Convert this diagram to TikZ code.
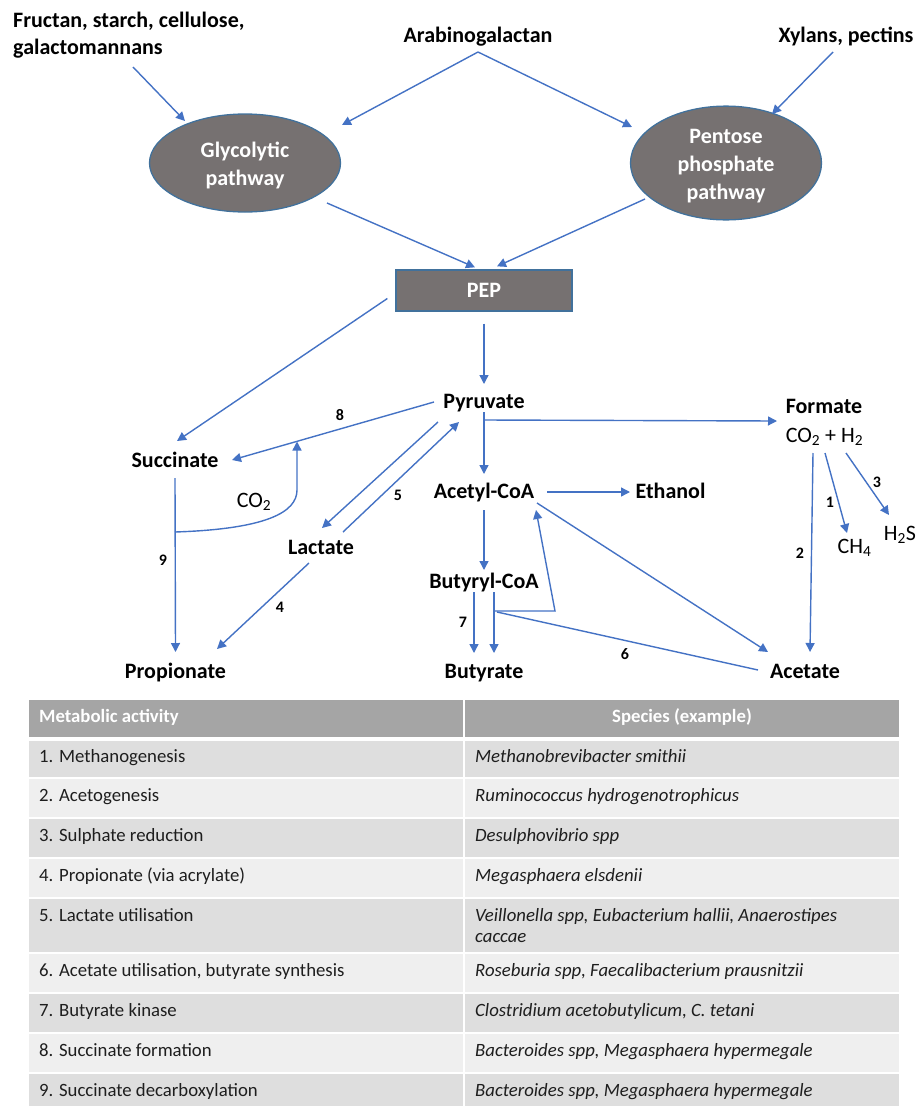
\documentclass[tikz,border=0pt]{standalone}
\usepackage{fontspec}
\setmainfont{Carlito}
\usetikzlibrary{arrows.meta,calc,shapes.geometric}
\definecolor{flow}{HTML}{4472C4}
\definecolor{pathfill}{HTML}{767171}
\definecolor{pathedge}{HTML}{41719C}
\definecolor{headgray}{HTML}{A5A5A5}
\definecolor{rowdark}{HTML}{DEDEDE}
\definecolor{rowlight}{HTML}{EFEFEF}
\definecolor{celltext}{HTML}{1E1E1E}

\begin{document}
\begin{tikzpicture}[x=1pt,y=-1pt,
  lab/.style={font=\fontsize{22}{27}\selectfont\bfseries, inner sep=0pt, anchor=base},
  chem/.style={font=\fontsize{22}{27}\selectfont, inner sep=0pt, anchor=base},
  num/.style={font=\fontsize{16}{18}\selectfont\bfseries, inner sep=0pt, anchor=base},
  pathway/.style={ellipse, draw=pathedge, line width=1.3pt, fill=pathfill, text=white,
    font=\fontsize{22}{28}\selectfont\bfseries, align=center, inner sep=0pt,
    minimum width=191pt, minimum height=98pt},
  hub/.style={rectangle, draw=pathedge, line width=1.3pt, fill=pathfill, text=white,
    font=\fontsize{22}{27}\selectfont\bfseries, minimum width=176pt, minimum height=41pt},
  flowarrow/.style={draw=flow, line width=1.4pt, -{Triangle[length=9pt,width=9pt]}},
  flowline/.style={draw=flow, line width=1.4pt},
  headcell/.style={fill=headgray},
  darkcell/.style={fill=rowdark},
  lightcell/.style={fill=rowlight},
  celltxt/.style={font=\fontsize{18.75}{20.5}\selectfont, inner sep=0pt, anchor=base west, text=celltext, align=left},
  spectxt/.style={celltxt, font=\fontsize{18.75}{20.5}\selectfont\itshape},
  headtxt/.style={font=\fontsize{18.75}{22}\selectfont\bfseries, inner sep=0pt, text=white},
]
\useasboundingbox (0,0) rectangle (919,1106);

% ---------- substrates ----------
\node[font=\fontsize{22}{27}\selectfont\bfseries, inner sep=0pt, align=left, anchor=north west]
  (fru) at (13,11.5) {Fructan, starch, cellulose,\\galactomannans};
\node[lab] (arab) at (478,42) {Arabinogalactan};
\node[lab] (xyl) at (846,42) {Xylans, pectins};

% ---------- pathways ----------
\node[pathway] (gly) at (245,163) {\rule{0pt}{21pt}Glycolytic\\pathway};
\node[pathway] (pen) at (726,163) {\rule{0pt}{21pt}Pentose\\phosphate\\pathway};
\node[hub] (pep) at (484,290.5) {PEP};

% ---------- metabolites ----------
\node[lab] (pyr) at (484,408) {Pyruvate};
\node[lab] (suc) at (175,467) {Succinate};
\node[chem] (co2) at (254,507) {CO\textsubscript{2}};
\node[lab] (lac) at (321,554) {Lactate};
\node[lab] (pro) at (175.5,678) {Propionate};
\node[lab] (acc) at (484,498) {Acetyl-CoA};
\node[lab] (eth) at (670.5,498) {Ethanol};
\node[lab] (buc) at (484,588) {Butyryl-CoA};
\node[lab] (but) at (484,678) {Butyrate};
\node[lab] (form) at (824,413) {Formate};
\node[chem] (gas) at (824.5,442) {CO\textsubscript{2} + H\textsubscript{2}};
\node[chem] (ch4) at (854.5,553) {CH\textsubscript{4}};
\node[chem] (h2s) at (900,540) {H\textsubscript{2}S};
\node[lab] (ace) at (805,678) {Acetate};

% ---------- step numbers ----------
\node[num] (n8) at (340,420) {8};
\node[num] (n5) at (398,500) {5};
\node[num] (n9) at (163,565) {9};
\node[num] (n4) at (280,612) {4};
\node[num] (n7) at (463,627) {7};
\node[num] (n6) at (625,659) {6};
\node[num] (n2) at (800,558) {2};
\node[num] (n1) at (830,507) {1};
\node[num] (n3) at (877,487) {3};

% ---------- connectors ----------
\draw[flowarrow] ($(fru.north west)+(120,55.5)$) -- ($(gly.center)+(-60,-42)$);
\draw[flowarrow] ($(arab.base)+(0,10)$) -- ($(gly.center)+(97,-38)$);
\draw[flowarrow] ($(arab.base)+(0,10)$) -- ($(pen.center)+(-94,-36)$);
\draw[flowarrow] ($(xyl.base)+(-13,10)$) -- ($(pen.center)+(46,-49)$);
\draw[flowarrow] ($(gly.center)+(82,40)$) -- ($(pep.north)+(-9,-2)$);
\draw[flowarrow] ($(pen.center)+(-81,36)$) -- ($(pep.north)+(13,-3)$);
\draw[flowarrow] ($(pep.west)+(-8,8)$) -- ($(suc.base)+(2,-26)$);
\draw[flowarrow] ($(pep.south)+(0,12)$) -- ($(pyr.base)+(0,-24)$);

% succinate branch
\draw[flowarrow] ($(pyr.base)+(-50,-6)$) -- ($(suc.base)+(57,-7)$);
\draw[flowarrow] ($(suc.base)+(0,65)$) .. controls +(92,-3) and +(0,22) .. ($(suc.base)+(122,23)$) -- ($(suc.base)+(122,-25.5)$);
\draw[flowarrow] ($(suc.base)+(0,11)$) -- ($(pro.base)+(0,-26)$);

% lactate
\draw[flowarrow] ($(pyr.base)+(-46,14)$) -- ($(lac.base)+(1,-26)$);
\draw[flowarrow] ($(lac.base)+(22,-22)$) -- ($(pyr.base)+(-25,14)$);
\draw[flowarrow] ($(lac.base)+(-12,9)$) -- ($(pro.base)+(41.5,-29)$);

% acetyl-CoA and butyrate
\draw[flowarrow] ($(pyr.base)+(0,4)$) -- ($(acc.base)+(0,-24)$);
\draw[flowarrow] ($(pyr.base)+(0,12)$) -- ($(form.base)+(-47,8)$);
\draw[flowarrow] ($(acc.base)+(0,12)$) -- ($(buc.base)+(0,-18)$);
\draw[flowarrow] ($(acc.base)+(63,-6)$) -- ($(eth.base)+(-40.5,-6)$);
\draw[flowarrow] ($(acc.base)+(53,5)$) -- ($(ace.base)+(-37,-26)$);
\draw[flowarrow] ($(buc.base)+(-10,4)$) -- ($(but.base)+(-10,-25)$);
\draw[flowarrow] ($(buc.base)+(10,4)$) -- ($(but.base)+(10,-25)$);
\draw[flowline] ($(ace.base)+(-47,-8)$) -- ($(buc.base)+(13,24)$);
\draw[flowarrow] ($(buc.base)+(10,23)$) -- ($(buc.base)+(71,23)$) -- ($(acc.base)+(52,12)$);

% hydrogen disposal
\draw[flowarrow] ($(gas.base)+(-11.5,11)$) -- ($(ace.base)+(5,-26)$);
\draw[flowarrow] ($(gas.base)+(0.5,11)$) -- ($(ch4.base)+(-7.5,-20)$);
\draw[flowarrow] ($(gas.base)+(21.5,11)$) -- ($(h2s.base)+(-11,-25)$);

% ---------- table ----------
\path[headcell] (29,700) rectangle (463,737);
\path[headcell] (465,700) rectangle (899,737);
\foreach \top/\bot/\sty in {741/777/darkcell, 779/817/lightcell, 819/857/darkcell,
    859/897/lightcell, 899/952/darkcell, 954/992/lightcell, 994/1032/darkcell,
    1034/1072/lightcell, 1074/1106/darkcell}{
  \path[\sty] (29,\top) rectangle (463,\bot);
  \path[\sty] (465,\top) rectangle (899,\bot);
}
\node[headtxt, anchor=base west] (h1) at (39,722) {Metabolic activity};
\node[headtxt, anchor=base] (h2) at (682,722) {Species (example)};

\node[celltxt] (t1) at (39,762) {1. Methanogenesis};
\node[spectxt] (s1) at (475,762) {Methanobrevibacter smithii};
\node[celltxt] (t2) at (39,801) {2. Acetogenesis};
\node[spectxt] (s2) at (475,801) {Ruminococcus hydrogenotrophicus};
\node[celltxt] (t3) at (39,841) {3. Sulphate reduction};
\node[spectxt] (s3) at (475,841) {Desulphovibrio spp};
\node[celltxt] (t4) at (39,881) {4. Propionate (via acrylate)};
\node[spectxt] (s4) at (475,881) {Megasphaera elsdenii};
\node[celltxt] (t5) at (39,921.5) {5. Lactate utilisation};
% two-line cell: the base anchor sits on the last line
\node[spectxt] (s5) at (475,942) {Veillonella spp, Eubacterium hallii, Anaerostipes\\caccae};
\node[celltxt] (t6) at (39,976) {6. Acetate utilisation, butyrate synthesis};
\node[spectxt] (s6) at (475,976) {Roseburia spp, Faecalibacterium prausnitzii};
\node[celltxt] (t7) at (39,1016) {7. Butyrate kinase};
\node[spectxt] (s7) at (475,1016) {Clostridium acetobutylicum, C. tetani};
\node[celltxt] (t8) at (39,1056) {8. Succinate formation};
\node[spectxt] (s8) at (475,1056) {Bacteroides spp, Megasphaera hypermegale};
\node[celltxt] (t9) at (39,1096) {9. Succinate decarboxylation};
\node[spectxt] (s9) at (475,1096) {Bacteroides spp, Megasphaera hypermegale};
\end{tikzpicture}
\end{document}
